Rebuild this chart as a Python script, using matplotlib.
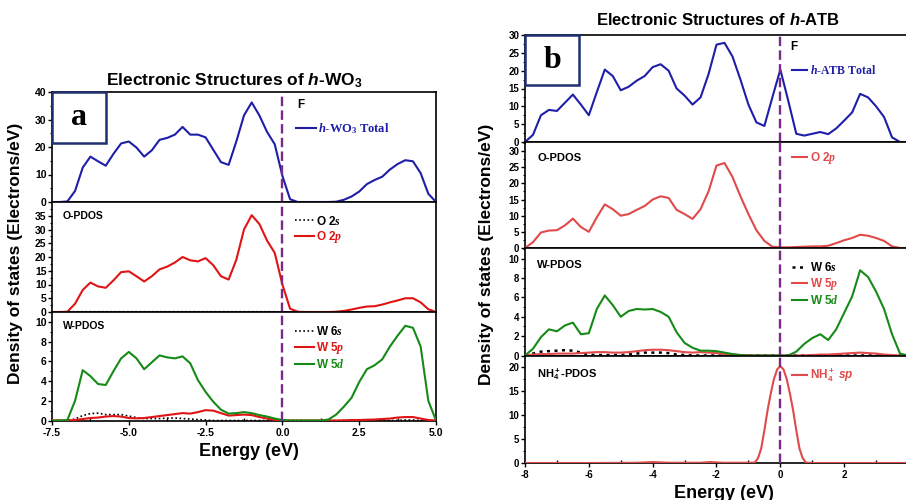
import numpy as np
import matplotlib
matplotlib.use("Agg")
import matplotlib.pyplot as plt
from matplotlib.patches import Rectangle
from matplotlib.ticker import MultipleLocator, FormatStrFormatter, FixedLocator

plt.rcParams['font.family'] = ['Liberation Sans', 'DejaVu Sans']
plt.rcParams['font.weight'] = 'bold'
plt.rcParams['axes.unicode_minus'] = False
plt.rcParams['lines.solid_joinstyle'] = 'round'
plt.rcParams['mathtext.fontset'] = 'custom'
plt.rcParams['mathtext.rm'] = 'Liberation Sans:bold'
plt.rcParams['mathtext.sf'] = 'Liberation Serif:bold'
plt.rcParams['mathtext.it'] = 'Liberation Serif:bold:italic'
plt.rcParams['mathtext.bf'] = 'Liberation Sans:bold:italic'

# ---------------- data: panel a (h-WO3) ----------------
E_A = [-7.5, -7.25, -7.0, -6.75, -6.5, -6.25, -6.0, -5.75, -5.5, -5.25,
       -5.0, -4.75, -4.5, -4.25, -4.0, -3.75, -3.5, -3.25, -3.0, -2.75,
       -2.5, -2.25, -2.0, -1.75, -1.5, -1.25, -1.0, -0.75, -0.5, -0.25,
       0.0, 0.25, 0.5, 0.75, 1.0, 1.25, 1.5, 1.75, 2.0, 2.25,
       2.5, 2.75, 3.0, 3.25, 3.5, 3.75, 4.0, 4.25, 4.5, 4.75, 5.0]
TOTAL_A = [0, 0, 0.2, 4, 12.5, 16.5, 14.8, 13.2, 17.5, 21.3,
           22, 19.8, 16.5, 18.8, 22.6, 23.3, 24.5, 27.3, 24.5, 24.5,
           23.5, 19, 14.5, 13.5, 22, 31.5, 36.2, 31.5, 25.5, 21,
           9.5, 1.0, 0, 0, 0, 0, 0, 0.1, 0.8, 2.0,
           3.8, 6.5, 8.0, 9.2, 11.8, 13.8, 15.2, 14.8, 10.5, 3, 0]
O2S_A = [0, 0, 0.1, 0.1, 0.1, 0.1, 0.1, 0.1, 0.1, 0.1,
         0.1, 0.1, 0.1, 0.1, 0.1, 0.1, 0.1, 0.1, 0.1, 0.1,
         0.1, 0.1, 0.1, 0.1, 0.1, 0.1, 0.1, 0.1, 0.1, 0.1,
         0, 0, 0, 0, 0, 0, 0, 0, 0, 0,
         0, 0, 0, 0, 0, 0, 0, 0, 0, 0, 0]
O2P_A = [0, 0, 0.1, 3, 8, 10.7, 9.3, 8.8, 11.5, 14.5,
         14.8, 13, 11.1, 13, 15.5, 16.5, 18, 20, 18.8, 18.4,
         19.6, 17, 13, 11.8, 19, 30, 35.2, 32, 26, 21.5,
         10, 1.2, 0.1, 0, 0, 0, 0, 0.1, 0.4, 0.9,
         1.5, 2.0, 2.1, 2.7, 3.5, 4.2, 5.0, 5.0, 3.5, 1.0, 0]
W6S_A = [0, 0, 0, 0.15, 0.5, 0.7, 0.75, 0.6, 0.6, 0.6,
         0.45, 0.3, 0.2, 0.2, 0.2, 0.25, 0.25, 0.2, 0.15, 0.1,
         0.05, 0, 0, 0, 0, 0, 0, 0, 0, 0,
         0, 0, 0, 0, 0, 0, 0, 0, 0, 0,
         0, 0, 0, 0, 0, 0, 0.05, 0.05, 0, 0, 0]
W5P_A = [0, 0, 0, 0.05, 0.15, 0.25, 0.3, 0.4, 0.45, 0.4,
         0.25, 0.22, 0.25, 0.35, 0.45, 0.55, 0.65, 0.75, 0.7, 0.85,
         1.05, 1.0, 0.75, 0.5, 0.55, 0.6, 0.55, 0.35, 0.2, 0.05,
         0, 0, 0, 0, 0, 0, 0, 0, 0.02, 0.05,
         0.05, 0.08, 0.1, 0.15, 0.2, 0.3, 0.35, 0.35, 0.2, 0.05, 0]
W5D_A = [0, 0, 0.05, 2.0, 5.1, 4.5, 3.7, 3.6, 5.0, 6.3,
         6.95, 6.3, 5.2, 5.9, 6.6, 6.4, 6.3, 6.5, 5.8, 4.1,
         2.9, 1.9, 1.1, 0.7, 0.75, 0.85, 0.75, 0.55, 0.4, 0.2,
         0.05, 0, 0, 0, 0, 0, 0.1, 0.6, 1.4, 2.3,
         3.9, 5.2, 5.6, 6.2, 7.5, 8.6, 9.6, 9.4, 7.5, 2.0, 0]

# ---------------- data: panel b (h-ATB) ----------------
E_B = [-8.0, -7.75, -7.5, -7.25, -7.0, -6.75, -6.5, -6.25, -6.0, -5.75,
       -5.5, -5.25, -5.0, -4.75, -4.5, -4.25, -4.0, -3.75, -3.5, -3.25,
       -3.0, -2.75, -2.5, -2.25, -2.0, -1.75, -1.5, -1.25, -1.0, -0.75,
       -0.5, -0.25, 0.0, 0.25, 0.5, 0.75, 1.0, 1.25, 1.5, 1.75,
       2.0, 2.25, 2.5, 2.75, 3.0, 3.25, 3.5, 3.75, 4.0]
TOTAL_B = [0, 2, 7.5, 9, 8.7, 11, 13.3, 10.5, 7.5, 14,
           20.3, 18.5, 14.5, 15.5, 17.2, 18.5, 21, 21.8, 20, 15,
           13, 10.5, 12.5, 19, 27.3, 27.8, 24, 17.5, 10.5, 5.5,
           4.5, 12.5, 20.3, 11.5, 2.3, 1.8, 2.3, 2.8, 2.2, 3.8,
           6, 8.3, 13.5, 12.5, 10, 7, 1.3, 0, 0]
O2P_B = [0, 1.8, 4.8, 5.4, 5.5, 7, 9.1, 6.5, 5, 9.5,
         13.5, 12, 10, 10.5, 11.8, 13, 15, 16, 15.5, 11.8,
         10.5, 9, 12, 17.5, 25.5, 26.3, 22, 16, 10.5, 5.5,
         2.2, 0.4, 0.2, 0.2, 0.3, 0.4, 0.5, 0.5, 0.7, 1.5,
         2.4, 3.1, 4.1, 3.8, 3.1, 2.2, 0.5, 0, 0]
W6S_B = [0, 0.2, 0.4, 0.45, 0.5, 0.55, 0.5, 0.3, 0.1, 0.05,
         0.05, 0.05, 0.05, 0.1, 0.2, 0.3, 0.3, 0.3, 0.25, 0.1,
         0.05, 0, 0, 0, 0, 0, 0, 0, 0, 0,
         0, 0, 0, 0, 0, 0, 0, 0, 0, 0,
         0, 0, 0, 0, 0, 0, 0, 0, 0]
W5P_B = [0, 0.1, 0.15, 0.15, 0.2, 0.2, 0.2, 0.25, 0.3, 0.35,
         0.35, 0.3, 0.3, 0.35, 0.45, 0.55, 0.6, 0.6, 0.55, 0.45,
         0.35, 0.3, 0.35, 0.3, 0.25, 0.15, 0.1, 0.05, 0.02, 0,
         0, 0, 0, 0, 0, 0.02, 0.05, 0.1, 0.1, 0.15,
         0.2, 0.25, 0.3, 0.25, 0.2, 0.1, 0.05, 0, 0]
W5D_B = [0, 0.7, 1.9, 2.7, 2.5, 3.1, 3.4, 2.2, 2.3, 4.8,
         6.2, 5.2, 4.0, 4.6, 4.8, 4.75, 4.8, 4.5, 4.0, 2.4,
         1.3, 0.8, 0.5, 0.5, 0.45, 0.3, 0.15, 0.05, 0, 0,
         0, 0, 0, 0, 0.4, 1.2, 1.8, 2.2, 1.6, 2.7,
         4.4, 6.1, 8.8, 8.1, 6.6, 4.8, 2.2, 0.2, 0]
E_NH4 = [-8.0, -6.0, -4.5, -4.0, -3.5, -2.5, -2.2, -1.8, -1.0, -0.8,
         -0.7, -0.6, -0.5, -0.4, -0.3, -0.2, -0.1, 0.0, 0.1, 0.2,
         0.3, 0.4, 0.5, 0.6, 0.7, 0.8, 1.0, 2.0, 4.0]
NH4_SP = [0, 0, 0.05, 0.2, 0.05, 0.05, 0.2, 0.05, 0.05, 0.1,
          1.0, 3.0, 6.8, 11.0, 14.5, 17.5, 19.5, 20.2, 19.5, 17.5,
          14.5, 11.0, 6.8, 3.0, 1.0, 0.1, 0, 0, 0]

XTICKS_A = [-7.5, -5.0, -2.5, 0.0, 2.5, 5.0]
XTICKS_B = [-8, -6, -4, -2, 0, 2]

# ---------------- styling ----------------
BLUE = '#1e1ea8'
RED_A = '#e01414'
RED_B = '#e04a4a'
GREEN = '#168a16'
PURPLE = '#7a2a88'
NAVY = '#1f2f70'

W, H = 906, 500
fig = plt.figure(figsize=(W / 100, H / 100), dpi=100)


def add_ax(l, t, r, b):
    return fig.add_axes([l / W, 1 - b / H, (r - l) / W, (b - t) / H])


def style(ax, xlim, ylim, yticks, ymin, tsize, xticks, xmin, bottom, xfmt):
    ax.set_xlim(*xlim)
    ax.set_ylim(*ylim)
    ax.set_yticks(yticks)
    ax.yaxis.set_minor_locator(MultipleLocator(ymin))
    ax.xaxis.set_major_locator(FixedLocator(xticks))
    ax.xaxis.set_minor_locator(MultipleLocator(xmin))
    ax.xaxis.set_major_formatter(FormatStrFormatter(xfmt))
    for s in ax.spines.values():
        s.set_linewidth(1.2)
    ax.tick_params(axis='y', which='major', direction='out', length=3, width=1,
                   labelsize=tsize, pad=1)
    ax.tick_params(axis='y', which='minor', direction='out', length=1.5, width=0.8)
    if bottom:
        ax.tick_params(axis='x', which='major', direction='out', length=3, width=1,
                       labelsize=tsize, pad=2)
        ax.tick_params(axis='x', which='minor', direction='in', length=2, width=1)
    else:
        ax.tick_params(axis='x', which='both', bottom=False, labelbottom=False)
    ax.axvline(0, color=PURPLE, lw=1.7, dashes=(4, 1.8), zorder=4)


def leg(ax, px, py, fs, family, hl=1.6):
    ax.legend(loc='center left', bbox_to_anchor=(px / W, 1 - py / H),
              bbox_transform=fig.transFigure, frameon=False, borderpad=0,
              borderaxespad=0, handlelength=hl, handletextpad=0.2,
              labelspacing=0.15, labelcolor='linecolor',
              prop={'family': family, 'weight': 'bold', 'size': fs})


def box(l, t, r, b, letter):
    fig.add_artist(Rectangle((l / W, 1 - b / H), (r - l) / W, (b - t) / H,
                             transform=fig.transFigure, facecolor='white',
                             edgecolor=NAVY, lw=1.8, zorder=10))
    fig.text((l + r) / 2 / W, 1 - (t + b) / 2 / H, letter, ha='center', va='center',
             fontsize=23, family='Liberation Serif', fontweight='bold', zorder=11)


LW = 1.5

# ---------------- panel a ----------------
a1 = add_ax(52, 92, 436, 202)
a2 = add_ax(52, 202, 436, 312)
a3 = add_ax(52, 312, 436, 421)

a1.plot(E_A, TOTAL_A, color=BLUE, lw=LW, zorder=3, label=r'$\mathit{h}$-WO$_\mathsf{3}$ Total')
a2.plot(E_A, O2S_A, color='black', lw=1.2, ls=(0, (1, 1.5)), zorder=3, label=r'O 2$\mathit{s}$')
a2.plot(E_A, O2P_A, color=RED_A, lw=LW, zorder=3, label=r'O 2$\mathit{p}$')
a3.plot(E_A, W6S_A, color='black', lw=1.2, ls=(0, (1, 1.5)), zorder=3, label=r'W 6$\mathit{s}$')
a3.plot(E_A, W5P_A, color=RED_A, lw=LW, zorder=3, label=r'W 5$\mathit{p}$')
a3.plot(E_A, W5D_A, color=GREEN, lw=LW, zorder=3, label=r'W 5$\mathit{d}$')

style(a1, (-7.5, 5), (0, 40), [0, 10, 20, 30, 40], 5, 7.5, XTICKS_A, 1.25, False, '%.1f')
style(a2, (-7.5, 5), (0, 40), [0, 5, 10, 15, 20, 25, 30, 35], 2.5, 7.5, XTICKS_A, 1.25, False, '%.1f')
style(a3, (-7.5, 5), (-0.05, 11), [0, 2, 4, 6, 8, 10], 1, 7.5, XTICKS_A, 1.25, True, '%.1f')

leg(a1, 296, 129, 9, 'Liberation Serif')
leg(a2, 295, 230, 8.5, 'Liberation Sans')
leg(a3, 295, 348, 8.5, 'Liberation Sans')

fig.text(297 / W, 1 - 105 / H, 'F', fontsize=8.5, ha='left', va='center')
fig.text(63 / W, 1 - 216 / H, 'O-PDOS', fontsize=7.5, ha='left', va='center')
fig.text(63 / W, 1 - 326 / H, 'W-PDOS', fontsize=7.5, ha='left', va='center')

fig.text(234 / W, 1 - 81 / H, r'Electronic Structures of $\mathbf{h}$-WO$_3$',
         fontsize=12.5, ha='center', va='center')
fig.text(16 / W, 1 - 253 / H, 'Density of states (Electrons/eV)', rotation=90,
         fontsize=12.5, ha='center', va='center')
fig.text(249 / W, 1 - 452 / H, 'Energy (eV)', fontsize=13, ha='center', va='center')
box(52, 92, 106, 143, 'a')

# ---------------- panel b ----------------
b1 = add_ax(525, 35, 908, 142)
b2 = add_ax(525, 142, 908, 248)
b3 = add_ax(525, 248, 908, 356)
b4 = add_ax(525, 356, 908, 463)

b1.plot(E_B, TOTAL_B, color=BLUE, lw=LW, zorder=3, label=r'$\mathit{h}$-ATB Total')
b2.plot(E_B, O2P_B, color=RED_B, lw=LW, zorder=3, label=r'O 2$\mathit{p}$')
b3.plot(E_B, W6S_B, color='black', lw=1.8, ls=(0, (1.2, 1.8)), zorder=3, label=r'W 6$\mathit{s}$')
b3.plot(E_B, W5P_B, color=RED_B, lw=LW, zorder=3, label=r'W 5$\mathit{p}$')
b3.plot(E_B, W5D_B, color=GREEN, lw=LW, zorder=3, label=r'W 5$\mathit{d}$')
b4.plot(E_NH4, NH4_SP, color=RED_B, lw=LW, zorder=3, label=r'NH$_4^+$ $\mathbf{sp}$')

style(b1, (-8, 4), (0, 30), [0, 5, 10, 15, 20, 25, 30], 2.5, 7, XTICKS_B, 1, False, '%d')
style(b2, (-8, 4), (0, 32.8), [0, 5, 10, 15, 20, 25, 30], 2.5, 7, XTICKS_B, 1, False, '%d')
style(b3, (-8, 4), (-0.05, 11.1), [0, 2, 4, 6, 8, 10], 1, 7, XTICKS_B, 1, False, '%d')
style(b4, (-8, 4), (0, 22.3), [0, 5, 10, 15, 20], 2.5, 7, XTICKS_B, 1, True, '%d')

leg(b1, 792, 71, 8.5, 'Liberation Serif', hl=1.3)
leg(b2, 792, 158, 8.5, 'Liberation Sans', hl=1.3)
leg(b3, 792, 284, 8.5, 'Liberation Sans', hl=1.3)
leg(b4, 792, 375, 8.5, 'Liberation Sans', hl=1.3)

fig.text(790 / W, 1 - 47 / H, 'F', fontsize=8.5, ha='left', va='center')
fig.text(537 / W, 1 - 158 / H, 'O-PDOS', fontsize=8, ha='left', va='center')
fig.text(537 / W, 1 - 265 / H, 'W-PDOS', fontsize=8, ha='left', va='center')
fig.text(537 / W, 1 - 375 / H, r'NH$_4^+$-PDOS', fontsize=8, ha='left', va='center')

fig.text(718 / W, 1 - 20 / H, r'Electronic Structures of $\mathbf{h}$-ATB',
         fontsize=12, ha='center', va='center')
fig.text(487 / W, 1 - 254 / H, 'Density of states (Electrons/eV)', rotation=90,
         fontsize=12.5, ha='center', va='center')
fig.text(724 / W, 1 - 493 / H, 'Energy (eV)', fontsize=13, ha='center', va='center')
box(525, 35, 579, 85, 'b')

fig.savefig('out.png', dpi=100, facecolor='white')
